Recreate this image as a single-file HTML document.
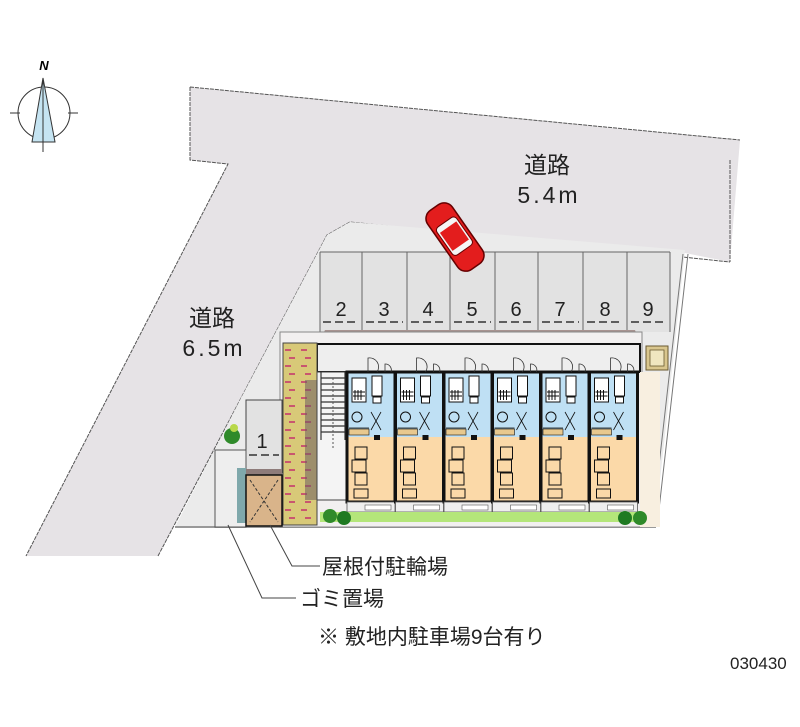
<!DOCTYPE html>
<html><head><meta charset="utf-8"><style>
html,body{margin:0;padding:0;background:#fff;width:800px;height:727px;overflow:hidden}
svg{display:block}
text{font-family:"Liberation Sans","Noto Sans CJK JP",sans-serif}
</style></head><body>
<svg width="800" height="727" viewBox="0 0 800 727" xmlns="http://www.w3.org/2000/svg">
<defs>
<g id="unit">
  <rect x="0" y="0" width="48" height="65" fill="#bfe0f4"/>
  <rect x="0" y="65" width="48" height="65" fill="#fbd9a8"/>
  <rect x="5" y="6" width="14" height="24" fill="#fff" stroke="#111" stroke-width="1"/>
  <path d="M6 20h12M6 24h12M8 18v10M11 18v10M14 18v10" stroke="#111" stroke-width="1"/>
  <rect x="25" y="4" width="10" height="20" fill="#fff" stroke="#111"/>
  <rect x="26" y="25" width="8" height="6" fill="#fff" stroke="#111"/>
  <circle cx="10" cy="45" r="5" fill="none" stroke="#111"/>
  <path d="M24 40l10 18M34 40l-10 18M2 56h20" stroke="#111" stroke-width="0.8"/>
  <rect x="2" y="57" width="20" height="6" fill="#e8c88e" stroke="#111" stroke-width="0.6"/>
  <rect x="27" y="63" width="6" height="5" fill="#111"/>
  <rect x="8" y="75" width="12" height="12" fill="#fbd9a8" stroke="#111"/>
  <rect x="5" y="88" width="14" height="12" fill="#fbd9a8" stroke="#111"/>
  <rect x="8" y="101" width="12" height="12" fill="#fbd9a8" stroke="#111"/>
  <rect x="7" y="117" width="14" height="9" fill="#fbd9a8" stroke="#111"/>
  <rect x="0" y="0" width="48" height="130" fill="none" stroke="#111" stroke-width="3"/>
  <path d="M30 0a9 9 0 0 0 -9 -14v14M44 0a6 6 0 0 0 -6 -8v8" fill="none" stroke="#333" stroke-width="0.8"/>
  <rect x="0" y="130" width="48" height="10" fill="#eee" stroke="#555" stroke-width="0.8"/>
  <rect x="18" y="133" width="26" height="5" fill="#fff" stroke="#555" stroke-width="0.6"/>
</g>
</defs>
<polygon points="190,87 740,140 730,262 680,252 350,222 327,235 240,400 158,556 26,556 228,164 190,160" fill="#e6e3e6"/>
<path d="M190,87 L740,140 M730,160 L730,262 M190,87 V160 L228,164 L26,556" fill="none" stroke="#555" stroke-width="1" stroke-dasharray="4,1"/>
<path d="M158,556 L240,400 L327,235 L350,222 L730,262" fill="none" stroke="#555" stroke-width="1" stroke-dasharray="4,1"/>
<polygon points="327,235 350,222 685,250 655,527 175,527 240,400" fill="#ebebeb"/>
<path d="M683,254 L652,527 M688,254 L657,527" stroke="#777" stroke-width="1"/>
<line x1="175" y1="527" x2="656" y2="527" stroke="#999" stroke-width="2"/>
<rect x="320" y="252" width="350" height="80" fill="#e2e2e2"/>
<g stroke="#666" stroke-width="1">
<line x1="320" y1="252" x2="670" y2="252"/>
<line x1="320" y1="252" x2="320" y2="332"/><line x1="362" y1="252" x2="362" y2="332"/><line x1="407" y1="252" x2="407" y2="332"/><line x1="450" y1="252" x2="450" y2="332"/><line x1="495" y1="252" x2="495" y2="332"/><line x1="538" y1="252" x2="538" y2="332"/><line x1="583" y1="252" x2="583" y2="332"/><line x1="627" y1="252" x2="627" y2="332"/><line x1="670" y1="252" x2="670" y2="332"/>
</g>
<g stroke="#333" stroke-width="1.5" stroke-dasharray="8,4">
<line x1="323" y1="322" x2="358" y2="322"/><line x1="366" y1="322" x2="403" y2="322"/><line x1="411" y1="322" x2="446" y2="322"/><line x1="454" y1="322" x2="491" y2="322"/><line x1="499" y1="322" x2="534" y2="322"/><line x1="542" y1="322" x2="579" y2="322"/><line x1="587" y1="322" x2="623" y2="322"/><line x1="631" y1="322" x2="666" y2="322"/>
</g>
<g font-size="20" fill="#222" text-anchor="middle">
<text x="341" y="316">2</text><text x="384" y="316">3</text><text x="428" y="316">4</text><text x="472" y="316">5</text><text x="516" y="316">6</text><text x="560" y="316">7</text><text x="605" y="316">8</text><text x="648" y="316">9</text>
</g>
<polygon points="325,330 635,330 640,344 318,344" fill="#a89390"/>
<rect x="280" y="332" width="362" height="195" fill="#f2f0f0" stroke="#888" stroke-width="1"/>
<rect x="317" y="344" width="323" height="28" fill="#eeeeee" stroke="#111" stroke-width="2"/>
<rect x="640" y="372" width="20" height="155" fill="#f8efe0"/>
<rect x="646" y="346" width="22" height="24" fill="#d9c68e" stroke="#6a5a30"/>
<rect x="650" y="350" width="14" height="16" fill="#f0e6c0" stroke="#6a5a30" stroke-width="0.8"/>
<rect x="283" y="343" width="34" height="182" fill="#d8c978"/>
<g stroke="#c9566f" stroke-width="2" stroke-dasharray="6,10">
<path d="M285 350h30M289 358h26M285 366h30M289 374h26M285 382h30M289 390h26M285 398h30M289 406h26M285 414h30M289 422h26M285 430h30M289 438h26M285 446h30M289 454h26M285 462h30M289 470h26M285 478h30M289 486h26M285 494h30M289 502h26M285 510h30M289 518h26"/>
</g>
<rect x="305" y="380" width="12" height="120" fill="#6d5d60" opacity="0.55"/>
<rect x="283" y="343" width="34" height="182" fill="none" stroke="#444"/>
<rect x="317" y="372" width="30" height="128" fill="#f4f4f4" stroke="#444"/>
<g stroke="#333" stroke-width="1.2"><path d="M321 378h24M321 384h24M321 390h24M321 396h24M321 402h24M321 408h24M321 414h24M321 420h24M321 426h24M321 432h24"/><path d="M321 372v68M345 372v68"/></g>
<line x1="333" y1="378" x2="333" y2="450" stroke="#555" stroke-dasharray="2,2"/>
<use href="#unit" x="347" y="372"/>
<use href="#unit" x="395.5" y="372"/>
<use href="#unit" x="444" y="372"/>
<use href="#unit" x="492.5" y="372"/>
<use href="#unit" x="541" y="372"/>
<use href="#unit" x="589.5" y="372"/>
<rect x="320" y="512" width="320" height="10" fill="#b4e67a"/>
<circle cx="330" cy="516" r="7" fill="#2f8a2a"/><circle cx="344" cy="518" r="7" fill="#1f7a22"/>
<circle cx="625" cy="518" r="7" fill="#1f7a22"/><circle cx="640" cy="518" r="7" fill="#2f8a2a"/>
<rect x="246" y="400" width="36" height="73" fill="#e2e2e2" stroke="#444"/>
<text x="262" y="448" font-size="20" text-anchor="middle" fill="#222">1</text>
<path d="M249 455h30" stroke="#333" stroke-width="1.5" stroke-dasharray="8,4"/>
<rect x="215" y="450" width="31" height="77" fill="#eeeeee" stroke="#555"/>
<rect x="237" y="468" width="9" height="55" fill="#7fa8ab"/>
<rect x="246" y="469" width="36" height="6" fill="#8e7c7a"/>
<rect x="246" y="475" width="36" height="51" fill="#d9b48a" stroke="#111" stroke-width="1.5"/>
<path d="M250 480L278 522M278 480L250 522" stroke="#333" stroke-dasharray="3,2"/>
<circle cx="232" cy="436" r="8" fill="#2f8a2a"/><circle cx="234" cy="428" r="4" fill="#b8d84a"/>
<g transform="translate(455,237) rotate(55)">
<rect x="-36" y="-15" width="72" height="30" rx="10" fill="#e31d1d" stroke="#600" stroke-width="1.5"/>
<rect x="-18" y="-12" width="34" height="24" rx="4" fill="#f5f5f5" stroke="#600"/>
<rect x="-12" y="-10" width="22" height="20" fill="#e31d1d"/>
</g>
<circle cx="44" cy="113" r="26" fill="none" stroke="#333" stroke-width="1"/>
<polygon points="43,78 32,142 55,142" fill="#c5e4f2" stroke="#333"/>
<path d="M43 78V152M10 113h10M68 113h10" stroke="#333"/>
<text x="44" y="70" font-size="13" font-style="italic" font-weight="bold" font-family="Liberation Serif,serif" text-anchor="middle">N</text>
<g font-size="23" fill="#222" text-anchor="middle">
<text x="547" y="173">道路</text><text x="549" y="203" letter-spacing="3">5.4m</text>
<text x="212" y="326">道路</text><text x="214" y="356" letter-spacing="3">6.5m</text>
</g>
<path d="M270 525L292 566H320M228 525L262 598H296" fill="none" stroke="#444"/>
<g font-size="21" fill="#222">
<text x="322" y="574">屋根付駐輪場</text>
<text x="300" y="606">ゴミ置場</text>
<text x="318" y="644">※ 敷地内駐車場9台有り</text>
</g>
<text x="730" y="669" font-size="17" fill="#222">030430</text>
</svg>
</body></html>
